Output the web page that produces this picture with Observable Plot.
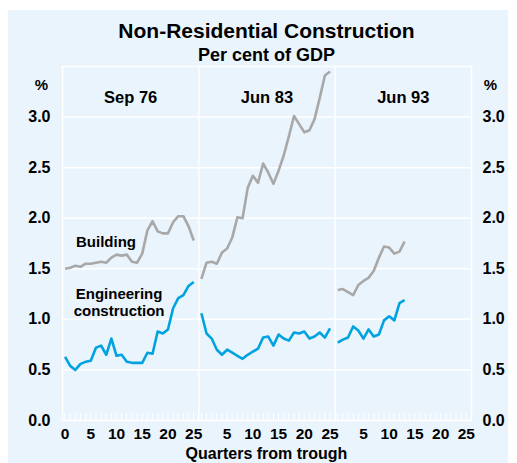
<!DOCTYPE html>
<html>
<head>
<meta charset="utf-8">
<script src="https://cdn.jsdelivr.net/npm/d3@7"></script>
<script src="https://cdn.jsdelivr.net/npm/@observablehq/plot@0.6"></script>
<style>
  body { margin: 0; background: white; }
  #wrap { position: relative; width: 517px; height: 463px; background: white; overflow: hidden;
          font-family: "Liberation Sans", Arial, sans-serif; font-weight: bold; color: black; }
  #bg { position: absolute; left: 8px; top: 10px; width: 500px; height: 453px; background: #eaf4fd; }
  #chart { position: absolute; left: 0; top: 0; }
  .t { position: absolute; left: 0; width: 533px; text-align: center; white-space: nowrap; }
</style>
</head>
<body>
<div id="wrap">
  <div id="bg"></div>
  <div id="chart"></div>
  <div class="t" style="top:20px;font-size:21px;line-height:21px;">Non-Residential Construction</div>
  <div class="t" style="top:46px;font-size:18px;line-height:18px;">Per cent of GDP</div>
  <div class="t" style="top:446px;font-size:16px;line-height:16px;">Quarters from trough</div>
</div>
<script>
// Panels (troughs)
const panels = ["Sep 76", "Jun 83", "Jun 93"];

// Building, per cent of GDP, by quarter from trough
const buildingSep76 = [1.50,1.51,1.53,1.52,1.55,1.55,1.56,1.57,1.56,1.61,1.64,1.63,1.64,1.57,1.56,1.65,1.88,1.97,1.87,1.85,1.85,1.96,2.02,2.02,1.92,1.78];
const buildingJun83 = [1.40,1.56,1.57,1.55,1.66,1.70,1.81,2.01,2.00,2.30,2.42,2.35,2.54,2.45,2.34,2.47,2.62,2.81,3.01,2.93,2.85,2.87,2.98,3.19,3.41,3.45];
const buildingJun93 = [1.29,1.30,1.27,1.24,1.34,1.38,1.41,1.48,1.61,1.72,1.71,1.65,1.67,1.77];

// Engineering construction, per cent of GDP
const engineeringSep76 = [0.63,0.54,0.50,0.56,0.58,0.59,0.72,0.74,0.65,0.81,0.64,0.65,0.58,0.57,0.57,0.57,0.67,0.66,0.88,0.86,0.90,1.11,1.21,1.24,1.33,1.37];
const engineeringJun83 = [1.06,0.86,0.81,0.70,0.65,0.70,0.67,0.64,0.61,0.65,0.68,0.71,0.82,0.83,0.74,0.85,0.81,0.79,0.87,0.86,0.88,0.81,0.83,0.87,0.82,0.91];
const engineeringJun93 = [0.77,0.80,0.82,0.93,0.89,0.81,0.90,0.83,0.85,0.99,1.03,0.99,1.16,1.19];

// Axis ticks
const yTicks = [0, 0.5, 1.0, 1.5, 2.0, 2.5, 3.0];
const xTickQuarters = [0, 5, 10, 15, 20, 25];
const quartersPerPanel = 26;

// Line labels (annotation positions in data units: quarter in panel 1, value)
const lineLabels = [
  {text: "Building", q: 7.95, v: 1.77},
  {text: "Engineering\nconstruction", q: 10.5, v: 1.17}
];

// Layout of the combined x scale
const SPAN = 26.5, OFFSET = 0.5;
const pos = (p, q) => p * SPAN + OFFSET + q;

const colors = {Building: "#a8a8a8", Engineering: "#00a3e0"};
const seriesList = [
  {name: "Building", panel: 0, values: buildingSep76},
  {name: "Building", panel: 1, values: buildingJun83},
  {name: "Building", panel: 2, values: buildingJun93},
  {name: "Engineering", panel: 0, values: engineeringSep76},
  {name: "Engineering", panel: 1, values: engineeringJun83},
  {name: "Engineering", panel: 2, values: engineeringJun93}
];
const rows = seriesList.flatMap(s => s.values.map((v, q) => ({
  series: s.name, key: s.name + s.panel, x: pos(s.panel, q), v
})));

const minorTicks = panels.flatMap((_, p) => d3.range(quartersPerPanel).map(q => pos(p, q)));
const tickLabels = panels.flatMap((_, p) => xTickQuarters.filter(q => p === 0 || q > 0).map(q => ({p, q})));
const gridValues = yTicks.filter(v => v > 0);

const H = 463, MT = 66, MB = 43;
const tickLen = 7 * 3.5 / (H - MT - MB);

const chart = Plot.plot({
  width: 517,
  height: H,
  marginTop: MT,
  marginBottom: MB,
  marginLeft: 62,
  marginRight: 46,
  x: {domain: [0, 3 * SPAN], axis: null},
  y: {domain: [0, 3.5], axis: null},
  style: {
    background: "transparent",
    fontFamily: "'Liberation Sans', Arial, sans-serif",
    fontWeight: "bold",
    color: "black",
    overflow: "visible"
  },
  marks: [
    Plot.ruleY(gridValues, {stroke: "white", strokeWidth: 1.5}),
    Plot.ruleX([SPAN, 2 * SPAN], {stroke: "white", strokeWidth: 1.5}),
    Plot.frame({stroke: "white", strokeWidth: 1.5}),
    Plot.ruleX(minorTicks, {y1: 0, y2: tickLen, stroke: "white", strokeWidth: 1}),
    Plot.line(rows, {x: "x", y: "v", z: "key", stroke: d => colors[d.series], strokeWidth: 2.6, strokeLinejoin: "round", strokeLinecap: "butt"}),
    Plot.axisY({anchor: "left", ticks: yTicks, tickFormat: d3.format(".1f"), tickSize: 0, tickPadding: 12, label: null, fontSize: 16, fill: "black"}),
    Plot.axisY({anchor: "right", ticks: yTicks, tickFormat: d3.format(".1f"), tickSize: 0, tickPadding: 11, label: null, fontSize: 16, fill: "black"}),
    Plot.text(tickLabels, {x: d => pos(d.p, d.q), text: d => String(d.q), frameAnchor: "bottom", dy: 18, fontSize: 15.5, fill: "black"}),
    Plot.text(panels, {x: (d, i) => i * SPAN + SPAN / 2, text: d => d, frameAnchor: "top", dy: 25, fontSize: 16.5, fill: "black"}),
    Plot.text(["%"], {frameAnchor: "top-left", dx: -21, dy: 13, textAnchor: "middle", fontSize: 15, fill: "black"}),
    Plot.text(["%"], {frameAnchor: "top-right", dx: 19, dy: 13, textAnchor: "middle", fontSize: 15, fill: "black"}),
    Plot.text(lineLabels, {x: d => pos(0, d.q), y: "v", text: "text", fontSize: 15, lineHeight: 1.15, fill: "black"})
  ]
});
document.getElementById("chart").appendChild(chart);
</script>
</body>
</html>
